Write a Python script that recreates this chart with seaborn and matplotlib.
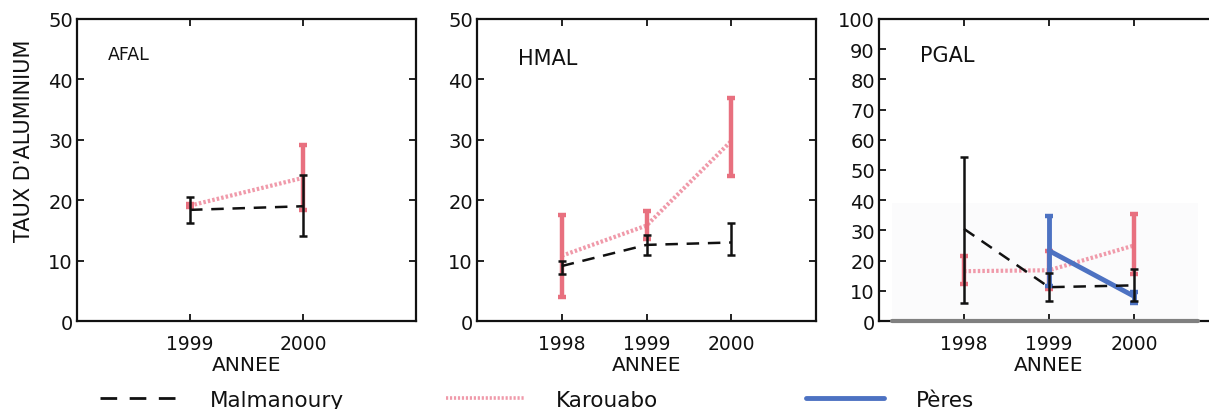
import numpy as np
import pandas as pd
import matplotlib
matplotlib.use("Agg")
import matplotlib.pyplot as plt
from matplotlib.lines import Line2D
import seaborn as sns

# ---- data -------------------------------------------------------------
afal_years = [1999, 2000]
afal_malm = [18.4, 19.0]
afal_malm_lo = [16.2, 14.0]
afal_malm_hi = [20.6, 24.2]
afal_karo = [19.1, 23.7]
afal_karo_lo = [18.8, 18.4]
afal_karo_hi = [19.4, 29.2]

hmal_years = [1998, 1999, 2000]
hmal_malm = [9.1, 12.6, 13.0]
hmal_malm_lo = [7.8, 10.9, 11.0]
hmal_malm_hi = [10.0, 14.2, 16.2]
hmal_karo = [10.8, 15.8, 29.8]
hmal_karo_lo = [4.0, 13.6, 24.0]
hmal_karo_hi = [17.5, 18.2, 36.9]

pgal_years = [1998, 1999, 2000]
pgal_malm = [30.5, 11.2, 11.8]
pgal_malm_lo = [6.0, 6.7, 6.5]
pgal_malm_hi = [54.3, 15.9, 17.2]
pgal_karo = [16.5, 16.8, 25.0]
pgal_karo_lo = [12.3, 10.6, 15.6]
pgal_karo_hi = [21.4, 23.3, 35.4]
peres_years = [1999, 2000]
pgal_peres = [23.3, 8.2]
pgal_peres_lo = [11.7, 6.0]
pgal_peres_hi = [34.9, 9.5]

sites = ["Malmanoury", "Karouabo", "Pères"]
panel_names = ["AFAL", "HMAL", "PGAL"]
ylabel = "TAUX D'ALUMINIUM"
xlabel = "ANNEE"

# ---- style ------------------------------------------------------------
sns.set_style("ticks")
plt.rcParams["font.family"] = ["DejaVu Sans"]
plt.rcParams["text.color"] = "#111111"
plt.rcParams["axes.labelcolor"] = "#111111"
plt.rcParams["xtick.labelcolor"] = "#111111"
plt.rcParams["ytick.labelcolor"] = "#111111"

COL_MALM = "#111111"
COL_KARO_LINE = "#f09aaa"
COL_KARO_ERR = "#e8707f"
COL_PERES = "#4d72c2"

W, H = 1209, 410
fig = plt.figure(figsize=(W / 100, H / 100), dpi=100)


def frac_box(x0, x1, ytop, ybot):
    return [x0 / W, 1 - ybot / H, (x1 - x0) / W, (ybot - ytop) / H]


ax1 = fig.add_axes(frac_box(77, 416, 20, 322))
ax2 = fig.add_axes(frac_box(477, 816, 20, 322))
ax3 = fig.add_axes(frac_box(879, 1219, 20, 322))


def series(ax, years, vals, lo, hi, kind):
    df = pd.DataFrame({"ANNEE": years, "val": vals})
    v = np.array(vals)
    yerr = [v - np.array(lo), np.array(hi) - v]
    if kind == "malm":
        sns.lineplot(data=df, x="ANNEE", y="val", ax=ax, color=COL_MALM,
                     lw=1.8, linestyle=(0, (5, 3.5)), zorder=4)
        ax.errorbar(years, vals, yerr=yerr, fmt="none", ecolor=COL_MALM,
                    elinewidth=1.8, capsize=3, capthick=1.8, zorder=5)
    elif kind == "karo":
        sns.lineplot(data=df, x="ANNEE", y="val", ax=ax, color=COL_KARO_LINE,
                     lw=3.0, linestyle=(0, (0.6, 0.5)), zorder=2)
        ax.errorbar(years, vals, yerr=yerr, fmt="none", ecolor=COL_KARO_ERR,
                    elinewidth=3.2, capsize=3, capthick=3.2, zorder=3)
    else:
        sns.lineplot(data=df, x="ANNEE", y="val", ax=ax, color=COL_PERES,
                     lw=3.5, zorder=3)
        ax.errorbar(years, vals, yerr=yerr, fmt="none", ecolor=COL_PERES,
                    elinewidth=3.5, capsize=3, capthick=3.2, zorder=3)


series(ax1, afal_years, afal_karo, afal_karo_lo, afal_karo_hi, "karo")
series(ax1, afal_years, afal_malm, afal_malm_lo, afal_malm_hi, "malm")

series(ax2, hmal_years, hmal_karo, hmal_karo_lo, hmal_karo_hi, "karo")
series(ax2, hmal_years, hmal_malm, hmal_malm_lo, hmal_malm_hi, "malm")

# pale inset panel behind the PGAL curves, with its grey base line
ax3.axhspan(0, 39, xmin=0.038, xmax=0.938, color="#fbfbfc", zorder=0, lw=0)
series(ax3, pgal_years, pgal_karo, pgal_karo_lo, pgal_karo_hi, "karo")
series(ax3, peres_years, pgal_peres, pgal_peres_lo, pgal_peres_hi, "peres")
series(ax3, pgal_years, pgal_malm, pgal_malm_lo, pgal_malm_hi, "malm")
ax3.axhline(0, xmin=0.038, xmax=0.938, color="#808080", lw=3, zorder=6,
            clip_on=False)

limits = [((1998, 2001), (0, 50), np.arange(0, 51, 10), afal_years),
          ((1997, 2001), (0, 50), np.arange(0, 51, 10), hmal_years),
          ((1997, 2001), (0, 100), np.arange(0, 101, 10), pgal_years)]
title_pos = [(0.09, 0.885, 12.5), (0.12, 0.87, 15), (0.12, 0.88, 15)]

for ax, (xl, yl, yt, xt), name, (tx, ty, tfs) in zip(
        [ax1, ax2, ax3], limits, panel_names, title_pos):
    ax.set_xlim(*xl)
    ax.set_ylim(*yl)
    ax.set_yticks(yt)
    ax.set_xticks(xt)
    ax.set_xticklabels([str(y) for y in xt])
    ax.tick_params(direction="in", top=True, right=True, length=5,
                   width=1.3, color="#111111")
    ax.tick_params(axis="x", pad=9, labelsize=13.5)
    ax.tick_params(axis="y", pad=3, labelsize=14)
    for s in ax.spines.values():
        s.set_linewidth(1.6)
        s.set_color("#111111")
    ax.set_xlabel(xlabel, fontsize=14.5, labelpad=2)
    ax.set_ylabel("")
    ax.text(tx, ty, name, transform=ax.transAxes, fontsize=tfs,
            ha="left", va="center", color="#111111")
    if ax.get_legend() is not None:
        ax.get_legend().remove()

fig.text(24 / W, 1 - 141 / H, ylabel, rotation=90, ha="center",
         va="center", fontsize=15, color="#111111")

# ---- legend along the bottom -----------------------------------------
handles = [
    Line2D([], [], color=COL_MALM, lw=2.0, linestyle=(0, (6, 4.5))),
    Line2D([], [], color=COL_KARO_LINE, lw=2.6, linestyle=(0, (0.6, 0.5))),
    Line2D([], [], color=COL_PERES, lw=3.5),
]
leg_x = [100, 446, 806]
for h, lab, x in zip(handles, sites, leg_x):
    fig.legend([h], [lab], loc="center left",
               bbox_to_anchor=(x / W, 1 - 401 / H), frameon=False,
               fontsize=15.5, handlelength=3.6, handletextpad=1.5,
               borderpad=0, borderaxespad=0)

fig.savefig("out.png", dpi=100)
